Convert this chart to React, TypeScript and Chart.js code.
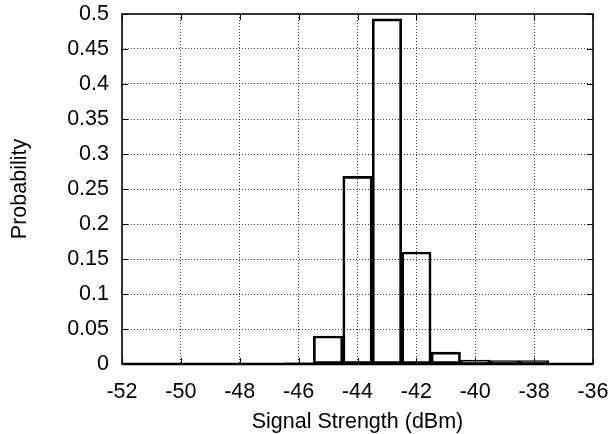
import React, { useEffect, useRef } from "react";
import { Chart, registerables } from "chart.js";

Chart.register(...registerables);

// Histogram bin centres (dBm) and probabilities
const binCenters = [-52, -51, -50, -49, -48, -47, -46, -45, -44, -43, -42, -41, -40, -39, -38, -37, -36];
const probabilities = [0, 0, 0, 0, 0, 0, 0.0015, 0.04, 0.268, 0.493, 0.16, 0.017, 0.0055, 0.005, 0.005, 0, 0];

const xTickValues = [-52, -50, -48, -46, -44, -42, -40, -38, -36];
const xTickLabels = ["-52", "-50", "-48", "-46", "-44", "-42", "-40", "-38", "-36"];
const yTickValues = [0, 0.05, 0.1, 0.15, 0.2, 0.25, 0.3, 0.35, 0.4, 0.45, 0.5];
const yTickLabels = ["0", "0.05", "0.1", "0.15", "0.2", "0.25", "0.3", "0.35", "0.4", "0.45", "0.5"];

const xTitle = "Signal Strength (dBm)";
const yTitle = "Probability";

const FONT = "'Liberation Sans', Arial, Helvetica, sans-serif";
const FONT_SIZE = 21.5;

const framePlugin = {
  id: "frame",
  afterDatasetsDraw(chart: any) {
    const { ctx, chartArea, scales } = chart;
    const { left, right, top, bottom } = chartArea;
    ctx.save();
    ctx.strokeStyle = "#000";
    // inward ticks on all four sides
    ctx.lineWidth = 1;
    const tl = 6;
    scales.x.ticks.forEach((t: any) => {
      const px = Math.round(scales.x.getPixelForValue(t.value)) + 0.5;
      ctx.beginPath();
      ctx.moveTo(px, bottom);
      ctx.lineTo(px, bottom - tl);
      ctx.moveTo(px, top);
      ctx.lineTo(px, top + tl);
      ctx.stroke();
    });
    scales.y.ticks.forEach((t: any) => {
      const py = Math.round(scales.y.getPixelForValue(t.value)) + 0.5;
      ctx.beginPath();
      ctx.moveTo(left, py);
      ctx.lineTo(left + tl, py);
      ctx.moveTo(right, py);
      ctx.lineTo(right - tl, py);
      ctx.stroke();
    });
    // frame
    ctx.lineWidth = 1.6;
    ctx.strokeRect(left, top, right - left, bottom - top);
    ctx.lineWidth = 2.5;
    ctx.beginPath();
    ctx.moveTo(left, bottom);
    ctx.lineTo(right, bottom);
    ctx.stroke();
    ctx.restore();
  },
};

export default function App() {
  const canvasRef = useRef<HTMLCanvasElement | null>(null);

  useEffect(() => {
    if (!canvasRef.current) return;
    const chart = new Chart(canvasRef.current, {
      type: "bar",
      data: {
        datasets: [
          {
            data: binCenters.map((x, i) => ({ x, y: probabilities[i] })),
            backgroundColor: "rgba(0,0,0,0)",
            borderColor: "#000",
            borderWidth: 2,
            borderSkipped: false,
            barPercentage: 1,
            categoryPercentage: 1,
          },
        ],
      },
      options: {
        animation: false,
        responsive: false,
        devicePixelRatio: 1,
        layout: { padding: { top: 14, right: 16, left: 0, bottom: 0 } },
        plugins: { legend: { display: false }, tooltip: { enabled: false } },
        scales: {
          x: {
            type: "linear",
            min: -52,
            max: -36,
            offset: false,
            afterFit: (s: any) => {
              s.height = 70;
              s.paddingLeft = 0;
              s.paddingRight = 0;
            },
            afterBuildTicks: (s: any) => {
              s.ticks = xTickValues.map((v) => ({ value: v }));
            },
            ticks: {
              color: "#000",
              font: { family: FONT, size: FONT_SIZE },
              padding: 15,
              maxRotation: 0,
              autoSkip: false,
              callback: (v: any) => {
                const i = xTickValues.indexOf(Number(v));
                return i >= 0 ? xTickLabels[i] : "";
              },
            },
            grid: {
              offset: false,
              drawTicks: false,
              color: (c: any) =>
                c.tick && (c.tick.value === -52 || c.tick.value === -36) ? "rgba(0,0,0,0)" : "rgba(0,0,0,0.75)",
              lineWidth: 1,
            },
            border: { display: false, dash: [1, 2] },
            title: {
              display: true,
              text: xTitle,
              color: "#000",
              font: { family: FONT, size: FONT_SIZE },
              padding: { top: 0, bottom: -1 },
            },
          },
          y: {
            min: 0,
            max: 0.5,
            afterFit: (s: any) => {
              s.width = 122;
              s.paddingTop = 0;
              s.paddingBottom = 0;
            },
            afterBuildTicks: (s: any) => {
              s.ticks = yTickValues.map((v) => ({ value: v }));
            },
            ticks: {
              color: "#000",
              font: { family: FONT, size: FONT_SIZE },
              padding: 13,
              autoSkip: false,
              callback: (v: any) => {
                const i = yTickValues.findIndex((t) => Math.abs(t - Number(v)) < 1e-9);
                return i >= 0 ? yTickLabels[i] : "";
              },
            },
            grid: {
              drawTicks: false,
              color: (c: any) =>
                c.tick && (c.tick.value === 0 || Math.abs(c.tick.value - 0.5) < 1e-9)
                  ? "rgba(0,0,0,0)"
                  : "rgba(0,0,0,0.75)",
              lineWidth: 1,
            },
            border: { display: false, dash: [1, 2] },
            title: {
              display: true,
              text: yTitle,
              color: "#000",
              font: { family: FONT, size: FONT_SIZE },
              padding: { top: 7, bottom: 0 },
            },
          },
        },
      },
      plugins: [framePlugin],
    } as any);
    return () => chart.destroy();
  }, []);

  return (
    <div style={{ position: "absolute", left: 0, top: 0, width: 609, height: 434, background: "#fff" }}>
      <canvas ref={canvasRef} width={609} height={434} style={{ display: "block" }} />
    </div>
  );
}
